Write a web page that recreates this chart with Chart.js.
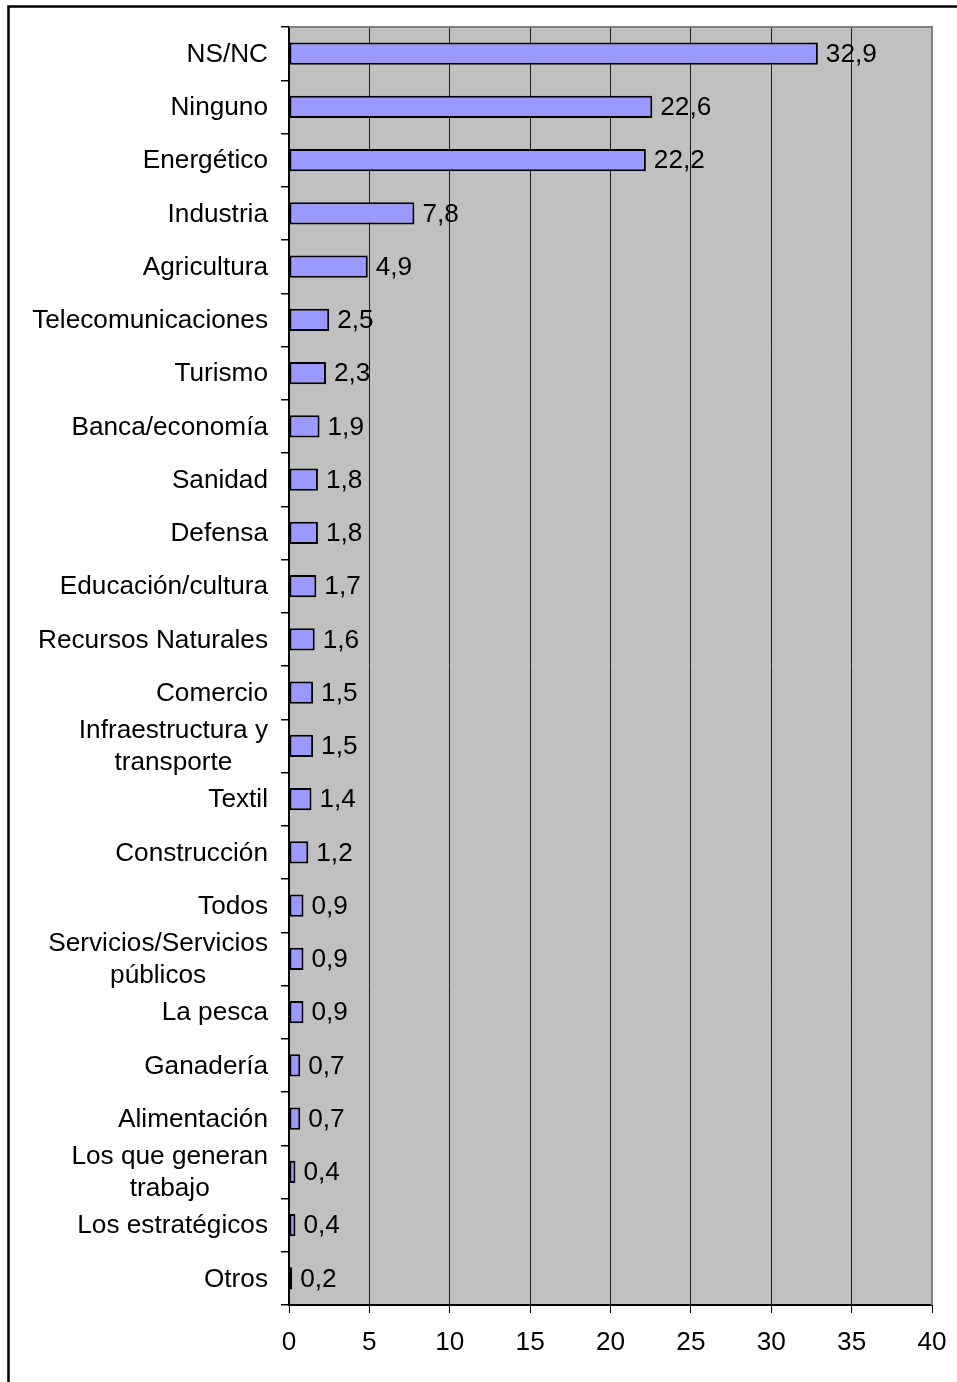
<!DOCTYPE html>
<html>
<head>
<meta charset="utf-8">
<script src="https://cdn.jsdelivr.net/npm/chart.js@4"></script>
<style>
  html, body { margin: 0; padding: 0; background: #fff; }
  #wrap { width: 957px; height: 1382px; }
</style>
</head>
<body>
<div id="wrap"><canvas id="chart" width="957" height="1382"></canvas></div>
<script>
const categories = [
    'NS/NC', 'Ninguno', 'Energético', 'Industria', 'Agricultura', 'Telecomunicaciones',
    'Turismo', 'Banca/economía', 'Sanidad', 'Defensa', 'Educación/cultura',
    'Recursos Naturales', 'Comercio', ['Infraestructura y', 'transporte'], 'Textil',
    'Construcción', 'Todos', ['Servicios/Servicios', 'públicos'], 'La pesca',
    'Ganadería', 'Alimentación', ['Los que generan', 'trabajo'], 'Los estratégicos', 'Otros'
];
const values = [
    32.9, 22.6, 22.2, 7.8, 4.9, 2.5,
    2.3, 1.9, 1.8, 1.8, 1.7,
    1.6, 1.5, 1.5, 1.4,
    1.2, 0.9, 0.9, 0.9,
    0.7, 0.7, 0.4, 0.4, 0.2
];
const xTicks = [0, 5, 10, 15, 20, 25, 30, 35, 40];

const FONT = '"Liberation Sans", Arial, sans-serif';
const FONT_SIZE = 26.2;

// fondo, marco exterior y area gris del grafico
const backgroundPlugin = {
    id: 'bg',
    beforeDraw(chart) {
        const { ctx, chartArea: a } = chart;
        ctx.save();
        ctx.fillStyle = '#fff';
        ctx.fillRect(0, 0, chart.width, chart.height);
        ctx.strokeStyle = '#000';
        ctx.lineWidth = 2.5;
        ctx.strokeRect(8.5, 6.5, chart.width + 20, chart.height + 20);
        ctx.fillStyle = '#c0c0c0';
        ctx.fillRect(a.left, a.top, a.right - a.left, a.bottom - a.top);
        ctx.restore();
    },
    beforeDatasetsDraw(chart) {
        const { ctx, chartArea: a } = chart;
        ctx.save();
        ctx.strokeStyle = '#808080';
        ctx.lineWidth = 2;
        ctx.beginPath();
        ctx.moveTo(a.left, a.top);
        ctx.lineTo(a.right, a.top);
        ctx.lineTo(a.right, a.bottom);
        ctx.stroke();
        ctx.restore();
    }
};

// etiquetas de categoria (multilinea centradas) y valores con coma
const labelsPlugin = {
    id: 'labels',
    afterDatasetsDraw(chart) {
        const { ctx } = chart;
        const yScale = chart.scales.y;
        const meta = chart.getDatasetMeta(0);
        ctx.save();
        ctx.font = FONT_SIZE + 'px ' + FONT;
        ctx.fillStyle = '#000';
        ctx.textBaseline = 'middle';

        meta.data.forEach((bar, i) => {
            ctx.textAlign = 'left';
            ctx.fillText(values[i].toFixed(1).replace('.', ','), bar.x + 8, bar.y + 1);
        });

        const right = yScale.right - 21;
        categories.forEach((cat, i) => {
            const y = yScale.getPixelForValue(i) + 1;
            const lines = Array.isArray(cat) ? cat : [cat];
            if (lines.length === 1) {
                ctx.textAlign = 'right';
                ctx.fillText(lines[0], right, y);
            } else {
                const widest = Math.max(...lines.map(l => ctx.measureText(l).width));
                const cx = right - widest / 2;
                ctx.textAlign = 'center';
                lines.forEach((l, k) => {
                    ctx.fillText(l, cx, y + (k - (lines.length - 1) / 2) * 32);
                });
            }
        });
        ctx.restore();
    }
};

new Chart(document.getElementById('chart'), {
    type: 'bar',
    data: {
        labels: categories,
        datasets: [{
            data: values,
            backgroundColor: '#9999ff',
            borderColor: '#000',
            borderWidth: 2,
            borderSkipped: false,
            barPercentage: 0.42,
            categoryPercentage: 1
        }]
    },
    options: {
        indexAxis: 'y',
        responsive: false,
        animation: false,
        devicePixelRatio: 1,
        layout: { padding: { top: 27, right: 25, left: 0, bottom: 0 } },
        scales: {
            x: {
                min: 0,
                max: 40,
                afterFit: s => {
                    s.height = 77;
                    // que la etiqueta "40" no encoja el area del grafico
                    s.paddingRight = 0;
                    s.paddingLeft = 0;
                },
                afterBuildTicks: s => { s.ticks = xTicks.map(v => ({ value: v })); },
                grid: {
                    color: c => (c.tick && c.tick.value === 40 ? '#808080' : '#1a1a1a'),
                    tickColor: '#000',
                    tickLength: 8,
                    lineWidth: 1
                },
                border: { display: true, color: '#000', width: 2 },
                ticks: {
                    color: '#000',
                    padding: 14,
                    maxRotation: 0,
                    font: { family: FONT, size: FONT_SIZE }
                }
            },
            y: {
                afterFit: s => { s.width = 289; },
                grid: {
                    offset: true,
                    drawOnChartArea: false,
                    color: '#000',
                    tickLength: 8,
                    lineWidth: 1.5
                },
                border: { display: true, color: '#000', width: 2 },
                ticks: { display: false }
            }
        },
        plugins: {
            legend: { display: false },
            tooltip: { enabled: false }
        }
    },
    plugins: [backgroundPlugin, labelsPlugin]
});
</script>
</body>
</html>
